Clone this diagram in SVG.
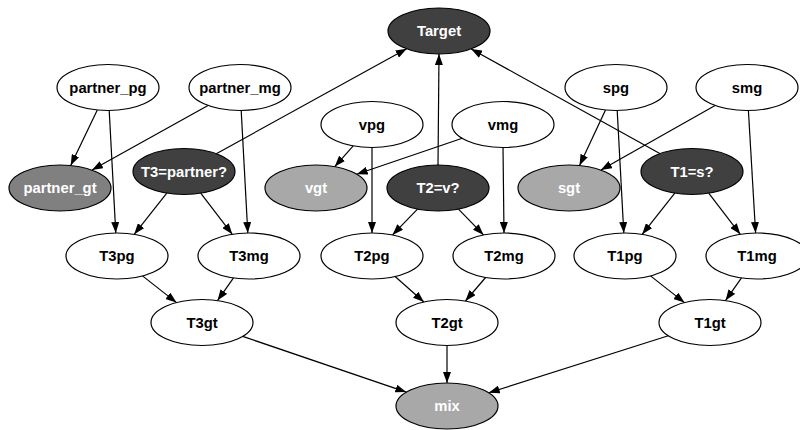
<svg xmlns="http://www.w3.org/2000/svg" width="800" height="430" viewBox="0 0 800 430">
<defs>
<marker id="ah" markerWidth="11" markerHeight="8" refX="11" refY="4" orient="auto" markerUnits="userSpaceOnUse">
<path d="M0,0 L11,4 L0,8 z" fill="#000"/>
</marker>
<style>
ellipse{stroke:#000;stroke-width:1.2}
.w ellipse{fill:#fff}
.d ellipse{fill:#404040}
.m ellipse{fill:#808080}
.g ellipse{fill:#a8a8a8}
text{font-family:"Liberation Sans",Arial,sans-serif;font-weight:bold;font-size:14.8px;text-anchor:middle}
.w text{fill:#000}
.d text,.m text,.g text{fill:#fff}
#edges line{stroke:#000;stroke-width:1.2;marker-end:url(#ah)}
</style>
</defs>
<rect width="800" height="430" fill="#fff"/>
<g id="edges">
<line x1="97.3" y1="110" x2="70.7" y2="165.5"/>
<line x1="208" y1="105.4" x2="92" y2="170.1"/>
<line x1="109.2" y1="110.5" x2="115.8" y2="233"/>
<line x1="241.2" y1="110.5" x2="247.8" y2="233"/>
<line x1="216.3" y1="153.7" x2="406.7" y2="48.8"/>
<line x1="166.8" y1="193.2" x2="134.2" y2="234.3"/>
<line x1="200.7" y1="193.2" x2="232.3" y2="234.3"/>
<line x1="353.2" y1="145.9" x2="334.8" y2="166.6"/>
<line x1="462.3" y1="138.3" x2="356.7" y2="174.2"/>
<line x1="372" y1="147.5" x2="372" y2="233"/>
<line x1="503" y1="147.5" x2="504" y2="233"/>
<line x1="438" y1="165" x2="439" y2="54"/>
<line x1="417.5" y1="209.1" x2="392.5" y2="234.9"/>
<line x1="458.5" y1="209.1" x2="483.5" y2="234.9"/>
<line x1="605.5" y1="110" x2="579.5" y2="165.5"/>
<line x1="715.1" y1="105.5" x2="600.9" y2="170"/>
<line x1="617.2" y1="110.5" x2="623.8" y2="233"/>
<line x1="748.4" y1="110.5" x2="755.6" y2="233"/>
<line x1="659.8" y1="153.6" x2="471.2" y2="48.9"/>
<line x1="674.8" y1="193.2" x2="642.2" y2="234.3"/>
<line x1="708.7" y1="193.2" x2="740.3" y2="234.3"/>
<line x1="142.5" y1="275.9" x2="176.5" y2="302.6"/>
<line x1="233.5" y1="277.9" x2="217.5" y2="300.6"/>
<line x1="395.1" y1="276.5" x2="423.9" y2="302"/>
<line x1="485.6" y1="277.5" x2="465.4" y2="301"/>
<line x1="650.5" y1="275.9" x2="684.5" y2="302.6"/>
<line x1="741.5" y1="277.9" x2="725.5" y2="300.6"/>
<line x1="242.7" y1="336.4" x2="406.3" y2="392.1"/>
<line x1="447" y1="345.5" x2="447" y2="383"/>
<line x1="668.3" y1="335.7" x2="488.7" y2="392.8"/>
</g>
<g id="Target" class="d"><ellipse cx="439" cy="31" rx="51" ry="23"/><text x="439" y="36">Target</text></g>
<g id="partner_pg" class="w"><ellipse cx="108" cy="87.5" rx="51" ry="23"/><text x="108" y="92.5">partner_pg</text></g>
<g id="partner_mg" class="w"><ellipse cx="240" cy="87.5" rx="51" ry="23"/><text x="240" y="92.5">partner_mg</text></g>
<g id="spg" class="w"><ellipse cx="616" cy="87.5" rx="51" ry="23"/><text x="616" y="92.5">spg</text></g>
<g id="smg" class="w"><ellipse cx="747" cy="87.5" rx="51" ry="23"/><text x="747" y="92.5">smg</text></g>
<g id="vpg" class="w"><ellipse cx="372" cy="124.5" rx="51" ry="23"/><text x="372" y="129.5">vpg</text></g>
<g id="vmg" class="w"><ellipse cx="503" cy="124.5" rx="51" ry="23"/><text x="503" y="129.5">vmg</text></g>
<g id="T3_partner" class="d"><ellipse cx="184" cy="171.5" rx="51" ry="23"/><text x="184" y="176.5">T3=partner?</text></g>
<g id="T1_s" class="d"><ellipse cx="692" cy="171.5" rx="51" ry="23"/><text x="692" y="176.5">T1=s?</text></g>
<g id="partner_gt" class="m"><ellipse cx="60" cy="188" rx="51" ry="23"/><text x="60" y="193">partner_gt</text></g>
<g id="vgt" class="g"><ellipse cx="316" cy="188" rx="51" ry="23"/><text x="316" y="193">vgt</text></g>
<g id="T2_v" class="d"><ellipse cx="438" cy="188" rx="51" ry="23"/><text x="438" y="193">T2=v?</text></g>
<g id="sgt" class="g"><ellipse cx="569" cy="188" rx="51" ry="23"/><text x="569" y="193">sgt</text></g>
<g id="T3pg" class="w"><ellipse cx="117" cy="256" rx="51" ry="23"/><text x="117" y="261">T3pg</text></g>
<g id="T3mg" class="w"><ellipse cx="249" cy="256" rx="51" ry="23"/><text x="249" y="261">T3mg</text></g>
<g id="T2pg" class="w"><ellipse cx="372" cy="256" rx="51" ry="23"/><text x="372" y="261">T2pg</text></g>
<g id="T2mg" class="w"><ellipse cx="504" cy="256" rx="51" ry="23"/><text x="504" y="261">T2mg</text></g>
<g id="T1pg" class="w"><ellipse cx="625" cy="256" rx="51" ry="23"/><text x="625" y="261">T1pg</text></g>
<g id="T1mg" class="w"><ellipse cx="757" cy="256" rx="51" ry="23"/><text x="757" y="261">T1mg</text></g>
<g id="T3gt" class="w"><ellipse cx="202" cy="322.5" rx="51" ry="23"/><text x="202" y="327.5">T3gt</text></g>
<g id="T2gt" class="w"><ellipse cx="447" cy="322.5" rx="51" ry="23"/><text x="447" y="327.5">T2gt</text></g>
<g id="T1gt" class="w"><ellipse cx="710" cy="322.5" rx="51" ry="23"/><text x="710" y="327.5">T1gt</text></g>
<g id="mix" class="g"><ellipse cx="447" cy="406" rx="51" ry="23"/><text x="447" y="411">mix</text></g>
</svg>
